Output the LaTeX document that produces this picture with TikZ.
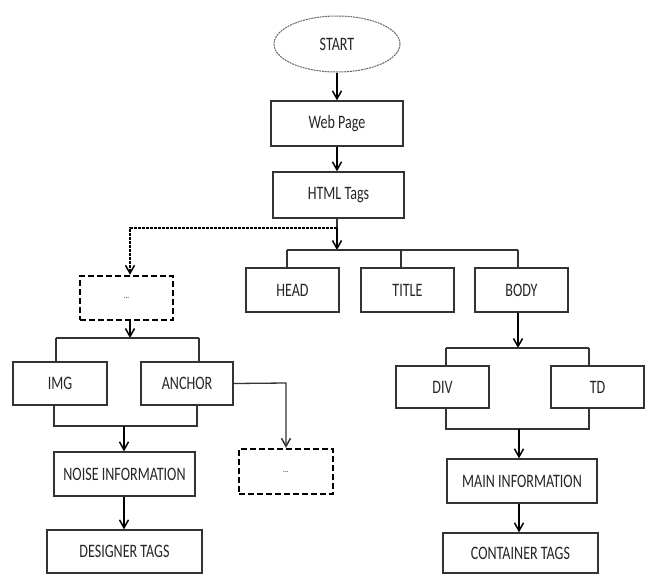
\documentclass[tikz,border=0pt]{standalone}
\usepackage{fontspec}
\setmainfont{Carlito}[FakeStretch=0.74]
\usetikzlibrary{shapes.geometric,arrows.meta}
\begin{document}
\begin{tikzpicture}[x=1pt,y=-1pt,
  box/.style={draw=black!80,line width=1.3pt,inner sep=0pt,text=black!85,
    font=\fontsize{19}{21}\selectfont},
  dbox/.style={draw=black,line width=2.4pt,dash pattern=on 6pt off 3pt,inner sep=0pt,
    font=\fontsize{10}{11}\selectfont,text=black!70},
  link/.style={draw=black!80,line width=1.3pt},
  arr/.style={draw=black,line width=2pt,-{Straight Barb[length=8pt,width=9pt,line width=1.5pt]}},
  darr/.style={draw=black,line width=2.4pt,dash pattern=on 3pt off 1pt,-{Straight Barb[length=8pt,width=9pt,line width=1.5pt]}}
]
\useasboundingbox[fill=white] (0,0) rectangle (651,574);

\node[box,ellipse,draw=black!60,line width=1pt,dash pattern=on 2pt off 0.8pt,minimum width=126pt,minimum height=56pt] (start) at (337,44) {START};
\node[box,minimum width=132pt,minimum height=45pt] (web) at (337,123.5) {Web Page};
\node[box,minimum width=131pt,minimum height=46pt] (html) at (338.5,195) {HTML Tags};

\node[dbox,minimum width=93pt,minimum height=44pt] (dots1) at (126.5,298) {\ldots};
\node[box,minimum width=93pt,minimum height=44pt] (head) at (292.5,290) {HEAD};
\node[box,minimum width=93pt,minimum height=44pt] (title) at (407.5,290) {TITLE};
\node[box,minimum width=93pt,minimum height=44pt] (body) at (521.5,290) {BODY};

\node[box,minimum width=94pt,minimum height=43pt] (img) at (60,383.5) {IMG};
\node[box,minimum width=92pt,minimum height=43pt] (anchor) at (187,383.5) {ANCHOR};
\node[box,minimum width=93pt,minimum height=42pt] (div) at (442.5,387) {DIV};
\node[box,minimum width=93pt,minimum height=42pt] (td) at (597.5,387) {TD};

\node[box,minimum width=141pt,minimum height=44pt] (noise) at (124.5,474) {NOISE INFORMATION};
\node[dbox,minimum width=94pt,minimum height=45pt] (dots2) at (286,471.5) {\ldots};
\node[box,minimum width=150pt,minimum height=44pt] (main) at (522,481) {MAIN INFORMATION};

\node[box,minimum width=155pt,minimum height=43pt] (designer) at (124.5,551.5) {DESIGNER TAGS};
\node[box,minimum width=155pt,minimum height=40pt] (cont) at (520.5,553) {CONTAINER TAGS};

% top chain
\draw[arr] (start.south) -- (web.north);
\draw[arr] (web.south) -- (web.south |- html.north);

% html to bus
\coordinate (hb) at (337,250);
\coordinate (hsplit) at (337,228);
\coordinate (busL) at (287,250);
\coordinate (busT) at (401,250);
\coordinate (busR) at (518,250);
\draw[link] (html.south -| hb) -- (hsplit);
\draw[arr] (hsplit) -- (hb);
\draw[link] (busL) -- (busR);
\draw[link] (busL) -- (busL |- head.north);
\draw[link] (busT) -- (busT |- title.north);
\draw[link] (busR) -- (busR |- body.north);

% dotted branch
\coordinate (dcorner) at (130,228);
\draw[darr] (hsplit) -- (dcorner) -- (dcorner |- dots1.north);

% left bus
\coordinate (lb) at (130,338);
\coordinate (lbL) at (56,338);
\coordinate (lbR) at (199,338);
\draw[arr] (dots1.south -| lb) -- (lb);
\draw[link] (lbL) -- (lbR);
\draw[link] (lbL) -- (lbL |- img.north);
\draw[link] (lbR) -- (lbR |- anchor.north);

% left merge
\coordinate (lmL) at (54,426);
\coordinate (lmR) at (197,426);
\coordinate (lm) at (124,426);
\draw[link] (lmL |- img.south) -- (lmL) -- (lmR) -- (lmR |- anchor.south);
\draw[arr] (lm) -- (lm |- noise.north);
\draw[arr] (noise.south -| lm) -- (lm |- designer.north);

% anchor to dots2
\coordinate (ac) at (286,383);
\draw[link,-{Straight Barb[length=8pt,width=9pt,line width=1.5pt]}] (anchor.east) -- (ac) -- (dots2.north);

% right side
\coordinate (rb) at (518,348);
\coordinate (rbL) at (446,348);
\coordinate (rbR) at (589,348);
\draw[arr] (body.south -| rb) -- (rb);
\draw[link] (rbL) -- (rbR);
\draw[link] (rbL) -- (rbL |- div.north);
\draw[link] (rbR) -- (rbR |- td.north);

\coordinate (rmL) at (446,429);
\coordinate (rmR) at (589,429);
\coordinate (rm) at (519,429);
\draw[link] (rmL |- div.south) -- (rmL) -- (rmR) -- (rmR |- td.south);
\draw[arr] (rm) -- (rm |- main.north);
\draw[arr] (main.south -| rm) -- (rm |- cont.north);
\end{tikzpicture}
\end{document}
